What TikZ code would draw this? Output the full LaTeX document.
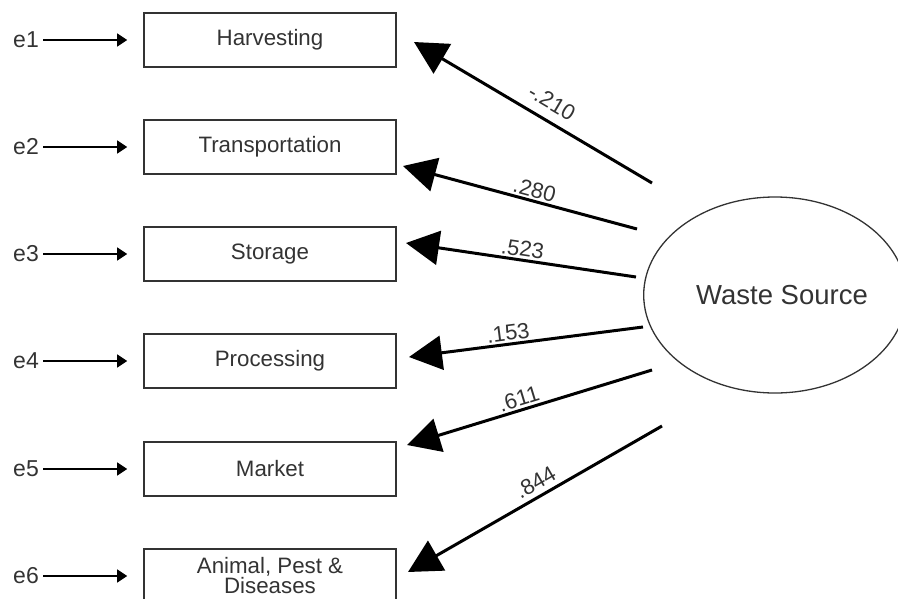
\documentclass[tikz,border=0pt]{standalone}
\usepackage{fontspec}
\setmainfont{Liberation Sans}
\usetikzlibrary{arrows.meta,shapes.geometric}
\begin{document}
\begin{tikzpicture}[x=1pt,y=-1pt,
  txt/.style={text=black!80},
  itembox/.style={draw=black!80,line width=1.6pt,minimum width=252pt,minimum height=54pt,inner sep=0pt,align=center,font=\fontsize{22.3}{22}\selectfont,txt},
  errlab/.style={font=\fontsize{23}{24}\selectfont,txt,inner sep=0pt},
  errarrow/.style={line width=1.5pt,-{Triangle[length=10pt,width=13pt]},shorten >=16pt,shorten <=4pt},
  loadarrow/.style={line width=3pt,{Triangle[length=33pt,width=34pt]}-},
  loadlab/.style={font=\fontsize{22}{24}\selectfont,txt,sloped,above,inner sep=2pt}]
\useasboundingbox (0,0) rectangle (898,598);
% boxes
\node[itembox] (b1) at (270,40) {Harvesting};
\node[itembox] (b2) at (270,147) {Transportation};
\node[itembox] (b3) at (270,254) {Storage};
\node[itembox] (b4) at (270,361) {Processing};
\node[itembox] (b5) at (270,469) {Market};
\node[itembox] (b6) at (270,576) {Animal, Pest \&\\[-2pt]Diseases};
% error labels
\node[errlab,anchor=east] (e1) at (39,40) {e1};
\node[errlab,anchor=east] (e2) at (39,147) {e2};
\node[errlab,anchor=east] (e3) at (39,254) {e3};
\node[errlab,anchor=east] (e4) at (39,361) {e4};
\node[errlab,anchor=east] (e5) at (39,469) {e5};
\node[errlab,anchor=east] (e6) at (39,576) {e6};
\foreach \i in {1,...,6}{\draw[errarrow] (e\i.east) -- (b\i.west);}
% latent
\node[draw=black!80,line width=1.3pt,ellipse,minimum width=246pt,minimum height=196pt,inner sep=0pt,font=\fontsize{27.5}{30}\selectfont,txt] (ws) at (775,295) {\hspace*{14pt}Waste Source};
% loadings
\coordinate (t1) at (414,42);  \coordinate (s1) at (652,183);
\coordinate (t2) at (403,166); \coordinate (s2) at (637,229);
\coordinate (t3) at (406,243); \coordinate (s3) at (636,277);
\coordinate (t4) at (409,357); \coordinate (s4) at (643,327);
\coordinate (t5) at (407,445); \coordinate (s5) at (652,370);
\coordinate (t6) at (408,572); \coordinate (s6) at (662,426);
\draw[loadarrow] (t1) -- node[loadlab,pos=0.54,yshift=7pt] (l1) {-.210} (s1);
\draw[loadarrow] (t2) -- node[loadlab,pos=0.55] (l2) {.280} (s2);
\draw[loadarrow] (t3) -- node[loadlab,pos=0.5] (l3) {.523} (s3);
\draw[loadarrow] (t4) -- node[loadlab,pos=0.43] (l4) {.153} (s4);
\draw[loadarrow] (t5) -- node[loadlab,pos=0.47] (l5) {.611} (s5);
\draw[loadarrow] (t6) -- node[loadlab,pos=0.53,yshift=3pt] (l6) {.844} (s6);
\end{tikzpicture}
\end{document}
